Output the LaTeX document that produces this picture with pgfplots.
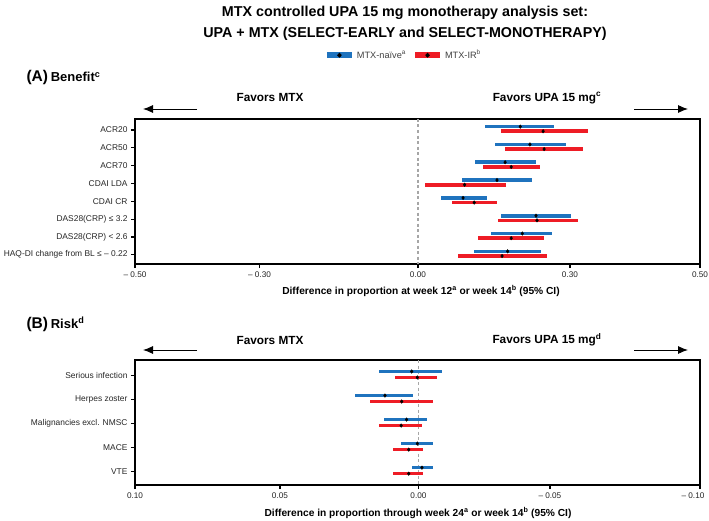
\documentclass[border=0pt]{standalone}
\usepackage{fontspec}
\setmainfont{Liberation Sans}
\usepackage{pgfplots}
\usepackage{pgfplotstable}
\pgfplotsset{compat=1.18}
\usetikzlibrary{arrows.meta}
\definecolor{nblue}{HTML}{1F73BE}
\definecolor{irred}{HTML}{EE1C25}

% Panel A: pos, MTX-naive (low, est, high), MTX-IR (low, est, high)
\pgfplotstableread{
pos bl be bh rl re rh
1 0.132 0.202 0.269 0.163 0.247 0.335
2 0.152 0.221 0.292 0.172 0.249 0.325
3 0.112 0.172 0.233 0.128 0.184 0.241
4 0.086 0.156 0.226 0.014 0.092 0.173
5 0.045 0.089 0.136 0.067 0.111 0.156
6 0.163 0.233 0.303 0.157 0.235 0.316
7 0.144 0.206 0.265 0.119 0.184 0.248
8 0.111 0.177 0.242 0.080 0.166 0.255
}\tabA

% Panel B
\pgfplotstableread{
pos bl be bh rl re rh
1 -0.0087 0.0025 0.0145 -0.0069 0.0004 0.0087
2 0.0019 0.0124 0.0235 -0.0053 0.0062 0.0180
3 -0.0031 0.0044 0.0127 -0.0013 0.0064 0.0145
4 -0.0054 0.0004 0.0064 -0.0018 0.0036 0.0094
5 -0.0054 -0.0013 0.0024 -0.0018 0.0036 0.0094
}\tabB

\pgfplotsset{
  forest/.style={
    scale only axis, width=565pt,
    y dir=reverse,
    axis line style={line width=1.2pt},
    tick style={line width=1.2pt, black},
    tick align=outside, major tick length=4pt,
    xtick pos=bottom, ytick pos=left,
    ticklabel style={font=\fontsize{8.2}{9}\selectfont, text=black!85},
    yticklabel style={font=\fontsize{8.4}{9}\selectfont},
    clip=false,
  },
  est/.style={only marks, mark=diamond*, mark size=1.8pt,
    mark options={fill=black, draw=black, solid}},
}

\begin{document}
\begin{tikzpicture}
\useasboundingbox (0,0) rectangle (709pt,-521pt);

\node[font=\bfseries\fontsize{14.3}{21}\selectfont, align=center] at (405pt,-23.5pt)
  {MTX controlled UPA 15 mg monotherapy analysis set:\\UPA + MTX (SELECT-EARLY and SELECT-MONOTHERAPY)};

% ---------- Panel A ----------
\node[anchor=base west, font=\bfseries] at (23pt,-82pt)
  {{\fontsize{15.5}{16}\selectfont (A)} {\fontsize{13}{14}\selectfont Benefit\textsuperscript{c}}};
\node[font=\bfseries\fontsize{11.8}{12}\selectfont] at (270pt,-98pt) {Favors MTX};
\node[font=\bfseries\fontsize{11.8}{12}\selectfont] at (547pt,-98pt) {Favors UPA 15 mg\textsuperscript{c}};
\draw[line width=0.9pt, -{Latex[length=10pt,width=8pt]}] (197pt,-109pt) -- (143pt,-109pt);
\draw[line width=0.9pt, -{Latex[length=10pt,width=8pt]}] (634pt,-109pt) -- (688pt,-109pt);

\begin{axis}[forest,
  at={(135pt,-119pt)}, anchor=north west, height=145pt,
  xmin=-0.5585, xmax=0.5567, ymin=0.382, ymax=8.52,
  xtick={-0.5585,-0.3128,0,0.3,0.5567},
  xticklabels={\textendash\ 0.50,\textendash\ 0.30,0.00,0.30,0.50},
  ytick={1,...,8},
  yticklabels={ACR20,ACR50,ACR70,CDAI LDA,CDAI CR,DAS28(CRP) ≤ 3.2,DAS28(CRP) < 2.6,HAQ-DI change from BL ≤ \textendash\ 0.22},
  legend style={at={(0.475,1.44)}, anchor=center, draw=none, fill=none,
    font=\fontsize{9.2}{10}\selectfont, text=black!75,
    /tikz/every even column/.append style={column sep=4pt}},
  legend columns=2,
]
\addplot[gray!70, line width=1.2pt, dash pattern=on 3pt off 2.5pt, forget plot] coordinates {(0,0.382) (0,8.52)};
\addplot[est,
  legend image code/.code={\draw[line width=6pt, nblue] (0pt,0pt) -- (25pt,0pt);
    \fill[black] (10.5pt,0pt) -- (12.5pt,2.2pt) -- (14.5pt,0pt) -- (12.5pt,-2.2pt) -- cycle;},
  error bars/.cd, x dir=both, x explicit, error mark=none,
  error bar style={line width=3.6pt, nblue}]
  table[x=be, y expr=\thisrow{pos}-0.19,
        x error plus expr=\thisrow{bh}-\thisrow{be},
        x error minus expr=\thisrow{be}-\thisrow{bl}] \tabA;
\addlegendentry{MTX-naïve\textsuperscript{a}}
\addplot[est,
  legend image code/.code={\draw[line width=6pt, irred] (0pt,0pt) -- (25pt,0pt);
    \fill[black] (10.5pt,0pt) -- (12.5pt,2.2pt) -- (14.5pt,0pt) -- (12.5pt,-2.2pt) -- cycle;},
  error bars/.cd, x dir=both, x explicit, error mark=none,
  error bar style={line width=3.6pt, irred}]
  table[x=re, y expr=\thisrow{pos}+0.07,
        x error plus expr=\thisrow{rh}-\thisrow{re},
        x error minus expr=\thisrow{re}-\thisrow{rl}] \tabA;
\addlegendentry{MTX-IR\textsuperscript{b}}
\end{axis}
\node[font=\bfseries\fontsize{10.2}{11}\selectfont] at (421pt,-291pt)
  {Difference in proportion at week 12\textsuperscript{a} or week 14\textsuperscript{b} (95\% CI)};

% ---------- Panel B ----------
\node[anchor=base west, font=\bfseries] at (23pt,-328pt)
  {{\fontsize{15.5}{16}\selectfont (B)} {\fontsize{13}{14}\selectfont Risk\textsuperscript{d}}};
\node[font=\bfseries\fontsize{11.8}{12}\selectfont] at (270pt,-340pt) {Favors MTX};
\node[font=\bfseries\fontsize{11.8}{12}\selectfont] at (547pt,-340pt) {Favors UPA 15 mg\textsuperscript{d}};
\draw[line width=0.9pt, -{Latex[length=10pt,width=8pt]}] (197pt,-350pt) -- (143pt,-350pt);
\draw[line width=0.9pt, -{Latex[length=10pt,width=8pt]}] (634pt,-350pt) -- (688pt,-350pt);

\begin{axis}[forest,
  at={(135pt,-360pt)}, anchor=north west, height=125pt,
  x dir=reverse,
  xmin=-0.1043, xmax=0.105, ymin=0.353, ymax=5.552,
  xtick={-0.1043,-0.0487,0,0.0513,0.105},
  xticklabels={\hspace*{-14pt}\textendash\ 0.10,\textendash\ 0.05,0.00,0.05,0.10},
  ytick={1,...,5},
  yticklabels={Serious infection,Herpes zoster,Malignancies excl. NMSC,MACE,VTE},
]
\addplot[gray!70, line width=1.2pt, dash pattern=on 3pt off 2.5pt] coordinates {(0,0.353) (0,5.552)};
\addplot[est, error bars/.cd, x dir=both, x explicit, error mark=none,
  error bar style={line width=3.6pt, nblue}]
  table[x=be, y expr=\thisrow{pos}-0.17,
        x error plus expr=\thisrow{bh}-\thisrow{be},
        x error minus expr=\thisrow{be}-\thisrow{bl}] \tabB;
\addplot[est, error bars/.cd, x dir=both, x explicit, error mark=none,
  error bar style={line width=3.6pt, irred}]
  table[x=re, y expr=\thisrow{pos}+0.08,
        x error plus expr=\thisrow{rh}-\thisrow{re},
        x error minus expr=\thisrow{re}-\thisrow{rl}] \tabB;
\end{axis}
\node[font=\bfseries\fontsize{10.2}{11}\selectfont] at (418pt,-513pt)
  {Difference in proportion through week 24\textsuperscript{a} or week 14\textsuperscript{b} (95\% CI)};

\end{tikzpicture}
\end{document}
